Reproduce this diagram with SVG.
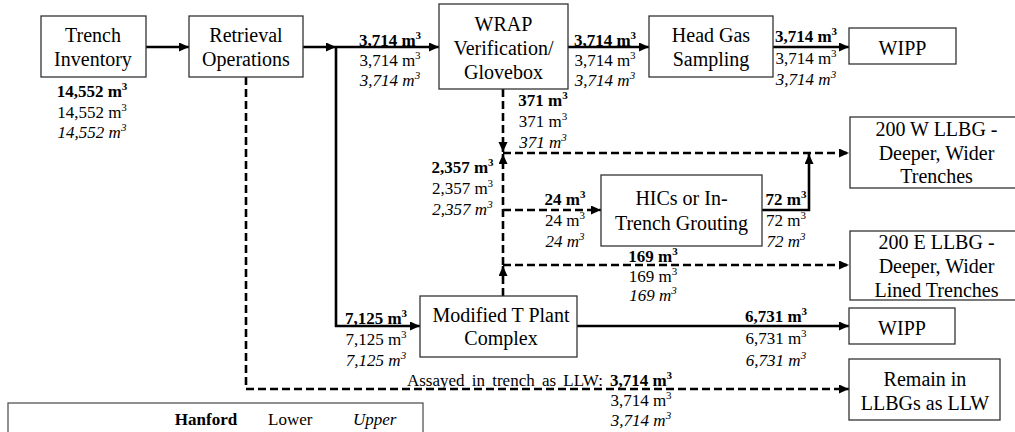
<svg xmlns="http://www.w3.org/2000/svg" width="1015" height="432" viewBox="0 0 1015 432">
<style>
text{font-family:"Liberation Serif","Times New Roman",serif;fill:#000}
.n{font-size:20px;text-anchor:middle}
.l{font-size:17px;text-anchor:middle}
.b{font-weight:bold}
.i{font-style:italic}
.box{fill:#fff;stroke:#333;stroke-width:1.3}
.s{fill:none;stroke:#000;stroke-width:2.6}
.d{fill:none;stroke:#000;stroke-width:2.6;stroke-dasharray:8,4}
.a{marker-end:url(#ah)}
</style>
<defs>
<marker id="ah" markerUnits="userSpaceOnUse" markerWidth="11" markerHeight="10" refX="10" refY="4.5" orient="auto">
<path d="M0,0 L10,4.5 L0,9 z" fill="#000"/>
</marker>
</defs>
<rect width="1015" height="432" fill="#fff"/>

<g id="connectors">
<line class="s a" x1="146" y1="47" x2="189" y2="47"/>
<line class="s a" x1="303" y1="47" x2="336" y2="47"/>
<line class="s a" x1="336" y1="47" x2="439" y2="47"/>
<line class="s" x1="336" y1="46" x2="336" y2="327"/>
<line class="s a" x1="335" y1="326" x2="420" y2="326"/>
<line class="s a" x1="568" y1="47" x2="649" y2="47"/>
<line class="s a" x1="773" y1="47" x2="849" y2="47"/>
<line class="d a" x1="503" y1="89" x2="503" y2="152"/>
<line class="d a" x1="503" y1="153" x2="849" y2="153"/>
<line class="d a" x1="503" y1="296" x2="503" y2="266"/>
<line class="d a" x1="503" y1="265" x2="503" y2="154"/>
<line class="d a" x1="503" y1="210" x2="601" y2="210"/>
<polyline class="s a" points="762,210 809,210 809,154"/>
<line class="d a" x1="503" y1="265" x2="849" y2="265"/>
<line class="s a" x1="577" y1="326" x2="849" y2="326"/>
<polyline class="d a" points="246,77 246,389 849,389"/>
</g>

<g id="trench-inventory">
<rect class="box" x="41" y="16" width="105" height="61"/>
<text class="n" x="93" y="42">Trench</text>
<text class="n" x="93" y="66">Inventory</text>
<text class="l b" x="92" y="97">14,552 m<tspan dy="-7" font-size="11">3</tspan></text>
<text class="l" x="92" y="118">14,552 m<tspan dy="-7" font-size="11">3</tspan></text>
<text class="l i" x="92" y="138">14,552 m<tspan dy="-7" font-size="11">3</tspan></text>
</g>

<g id="retrieval-operations">
<rect class="box" x="189" y="16" width="114" height="61"/>
<text class="n" x="246" y="42">Retrieval</text>
<text class="n" x="246" y="66">Operations</text>
</g>

<g id="wrap">
<rect class="box" x="439" y="4" width="129" height="85"/>
<text class="n" x="503.5" y="31">WRAP</text>
<text class="n" x="503.5" y="55">Verification/</text>
<text class="n" x="503.5" y="79">Glovebox</text>
</g>

<g id="head-gas-sampling">
<rect class="box" x="649" y="16" width="124" height="61"/>
<text class="n" x="711" y="42">Head Gas</text>
<text class="n" x="711" y="66">Sampling</text>
</g>

<g id="wipp-top">
<rect class="box" x="849" y="28" width="107" height="36"/>
<text class="n" x="902.5" y="55">WIPP</text>
</g>

<g id="llbg-200w">
<rect class="box" x="850" y="117" width="175" height="71"/>
<text class="n" x="936.5" y="136">200 W LLBG -</text>
<text class="n" x="936.5" y="160">Deeper, Wider</text>
<text class="n" x="936.5" y="183">Trenches</text>
</g>

<g id="hics">
<rect class="box" x="601" y="175" width="161" height="71"/>
<text class="n" x="681.5" y="205">HICs or In-</text>
<text class="n" x="681.5" y="230">Trench Grouting</text>
</g>

<g id="llbg-200e">
<rect class="box" x="850" y="231" width="175" height="69"/>
<text class="n" x="936.5" y="249">200 E LLBG -</text>
<text class="n" x="936.5" y="273">Deeper, Wider</text>
<text class="n" x="936.5" y="297">Lined Trenches</text>
</g>

<g id="modified-t-plant">
<rect class="box" x="420" y="296" width="157" height="61"/>
<text class="n" x="501" y="322">Modified T Plant</text>
<text class="n" x="501" y="345">Complex</text>
</g>

<g id="wipp-bottom">
<rect class="box" x="849" y="308" width="106" height="36"/>
<text class="n" x="902" y="335">WIPP</text>
</g>

<g id="remain-llbg">
<rect class="box" x="849" y="359" width="151" height="61"/>
<text class="n" x="925" y="386">Remain in</text>
<text class="n" x="925" y="410">LLBGs as LLW</text>
</g>

<g id="labels">
<text class="l b" x="390" y="46">3,714 m<tspan dy="-7" font-size="11">3</tspan></text>
<text class="l" x="390" y="66">3,714 m<tspan dy="-7" font-size="11">3</tspan></text>
<text class="l i" x="390" y="86">3,714 m<tspan dy="-7" font-size="11">3</tspan></text>

<text class="l b" x="605" y="46">3,714 m<tspan dy="-7" font-size="11">3</tspan></text>
<text class="l" x="605" y="66">3,714 m<tspan dy="-7" font-size="11">3</tspan></text>
<text class="l i" x="605" y="86">3,714 m<tspan dy="-7" font-size="11">3</tspan></text>

<text class="l b" x="806" y="42">3,714 m<tspan dy="-7" font-size="11">3</tspan></text>
<text class="l" x="806" y="64">3,714 m<tspan dy="-7" font-size="11">3</tspan></text>
<text class="l i" x="806" y="85">3,714 m<tspan dy="-7" font-size="11">3</tspan></text>

<text class="l b" x="543" y="106">371 m<tspan dy="-7" font-size="11">3</tspan></text>
<text class="l" x="543" y="127">371 m<tspan dy="-7" font-size="11">3</tspan></text>
<text class="l i" x="543" y="148">371 m<tspan dy="-7" font-size="11">3</tspan></text>

<text class="l b" x="462.5" y="173">2,357 m<tspan dy="-7" font-size="11">3</tspan></text>
<text class="l" x="462.5" y="194">2,357 m<tspan dy="-7" font-size="11">3</tspan></text>
<text class="l i" x="462.5" y="215">2,357 m<tspan dy="-7" font-size="11">3</tspan></text>

<text class="l b" x="565" y="205">24 m<tspan dy="-7" font-size="11">3</tspan></text>
<text class="l" x="565" y="226">24 m<tspan dy="-7" font-size="11">3</tspan></text>
<text class="l i" x="565" y="247">24 m<tspan dy="-7" font-size="11">3</tspan></text>

<text class="l b" x="786" y="205">72 m<tspan dy="-7" font-size="11">3</tspan></text>
<text class="l" x="786" y="226">72 m<tspan dy="-7" font-size="11">3</tspan></text>
<text class="l i" x="786" y="247">72 m<tspan dy="-7" font-size="11">3</tspan></text>

<text class="l b" x="653" y="262">169 m<tspan dy="-7" font-size="11">3</tspan></text>
<text class="l" x="653" y="282">169 m<tspan dy="-7" font-size="11">3</tspan></text>
<text class="l i" x="653" y="301">169 m<tspan dy="-7" font-size="11">3</tspan></text>

<text class="l b" x="376" y="324">7,125 m<tspan dy="-7" font-size="11">3</tspan></text>
<text class="l" x="376" y="345">7,125 m<tspan dy="-7" font-size="11">3</tspan></text>
<text class="l i" x="376" y="366">7,125 m<tspan dy="-7" font-size="11">3</tspan></text>

<text class="l b" x="776" y="322">6,731 m<tspan dy="-7" font-size="11">3</tspan></text>
<text class="l" x="776" y="344">6,731 m<tspan dy="-7" font-size="11">3</tspan></text>
<text class="l i" x="776" y="366">6,731 m<tspan dy="-7" font-size="11">3</tspan></text>

<text class="l" x="603" y="386" style="text-anchor:end;word-spacing:3px">Assayed in trench as LLW:</text>
<text class="l b" x="641" y="386">3,714 m<tspan dy="-7" font-size="11">3</tspan></text>
<text class="l" x="641" y="406">3,714 m<tspan dy="-7" font-size="11">3</tspan></text>
<text class="l i" x="641" y="426">3,714 m<tspan dy="-7" font-size="11">3</tspan></text>
</g>

<g id="legend">
<rect x="8" y="403" width="415" height="40" fill="#fff" stroke="#555" stroke-width="1.3"/>
<text class="l b" x="206" y="425">Hanford</text>
<text x="268" y="425" font-size="17">Lower</text>
<text class="i" x="353" y="425" font-size="17">Upper</text>
</g>
</svg>
